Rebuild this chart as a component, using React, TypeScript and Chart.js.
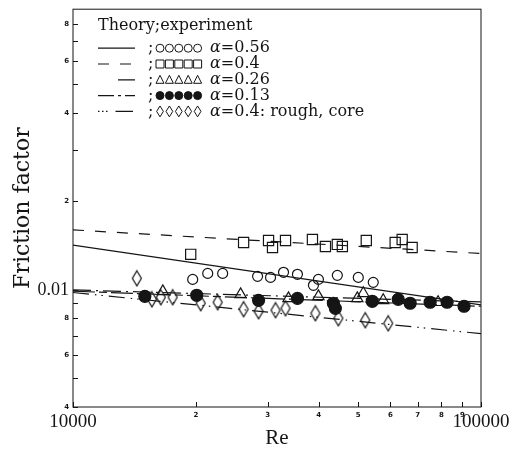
import React, { useEffect, useRef } from 'react';
import { Chart, registerables } from 'chart.js';
Chart.register(...registerables);

// Theory lines (endpoints on log-log axes)
const theoryRe = [10000, 100000];
const theory056 = [0.0142, 0.0089];
const theory04 = [0.016, 0.0133];
const theory026 = [0.01, 0.0091];
const theory013 = [0.0099, 0.0088];
const theoryRough = [0.0098, 0.0071];

// Experiments
const re056 = [19650, 21390, 23270, 28340, 30490, 32810, 35490, 38840, 39950, 44450, 50030, 54440];
const f056 = [0.01086, 0.01138, 0.01138, 0.01112, 0.01103, 0.01148, 0.0113, 0.01037, 0.01086, 0.01121, 0.01103, 0.01061];

const re04 = [19430, 26190, 30150, 30830, 33180, 38620, 41560, 44450, 45730, 52340, 61610, 64090, 67800];
const f04 = [0.01321, 0.0145, 0.01473, 0.01394, 0.01473, 0.01484, 0.01405, 0.01428, 0.01405, 0.01473, 0.0145, 0.01484, 0.01394];

const re026 = [16600, 25750, 33740, 39950, 49750, 51460, 57590, 78500];
const f026 = [0.00989, 0.00966, 0.00936, 0.00951, 0.00936, 0.00974, 0.00922, 0.00908];

const re013 = [15000, 20100, 28500, 35490, 43470, 43960, 54140, 62670, 67040, 75040, 82580, 90880];
const f013 = [0.00951, 0.00959, 0.00922, 0.00936, 0.00901, 0.00866, 0.00915, 0.00929, 0.00901, 0.00908, 0.00908, 0.0088];

const reRough = [14340, 15610, 16410, 17550, 20560, 22620, 26190, 28500, 31360, 33180, 39280, 44710, 52040, 59230];
const fRough = [0.01095, 0.00929, 0.00944, 0.00944, 0.00901, 0.00908, 0.0086, 0.00846, 0.00853, 0.00866, 0.00833, 0.00801, 0.00789, 0.0077];

// Axes
const xTickValues = [10000, 20000, 30000, 40000, 50000, 60000, 70000, 80000, 90000, 100000];
const xTickLabels = ['10000', '2', '3', '4', '5', '6', '7', '8', '9', '100000'];
const yTickValues = [0.004, 0.005, 0.006, 0.007, 0.008, 0.009, 0.01, 0.02, 0.03, 0.04, 0.05, 0.06, 0.07, 0.08];
const yTickLabels = ['4', '', '6', '', '8', '', '0.01', '2', '', '4', '', '6', '', '8'];
const xTitle = 'Re';
const yTitle = 'Friction factor';

// Legend
const legendTitle = 'Theory;experiment';
const legendLabels = ['α=0.56', 'α=0.4', 'α=0.26', 'α=0.13', 'α=0.4: rough, core'];
const legendMarkers = ['circle', 'square', 'triangle', 'filled', 'diamond'];

const INK = '#151515';
const DASH_04 = [11, 11];
const DASH_026 = [18, 5, 2, 5];
const DASH_013 = [22, 4, 8, 4];
const DASH_ROUGH = [16, 6, 1.5, 5, 1.5, 6];
const legendDashes = [[], DASH_04, [0, 20, 18, 0], [16, 4, 3, 4, 8, 0], [1.5, 2.5, 1.5, 2.5, 1.5, 8, 16, 0]];

function drawMark(ctx: CanvasRenderingContext2D, type: string, x: number, y: number, s: number) {
  ctx.beginPath();
  const h = s / 2;
  if (type === 'circle' || type === 'filled') {
    ctx.arc(x, y, h, 0, Math.PI * 2);
    if (type === 'filled') ctx.fill();
    ctx.stroke();
  } else if (type === 'square') {
    ctx.rect(x - h, y - h, s, s);
    ctx.stroke();
  } else if (type === 'triangle') {
    ctx.moveTo(x, y - h - 0.5);
    ctx.lineTo(x + h, y + h - 0.5);
    ctx.lineTo(x - h, y + h - 0.5);
    ctx.closePath();
    ctx.stroke();
  } else if (type === 'diamond') {
    const w = s * 0.42;
    const hh = s * 0.68;
    ctx.moveTo(x, y - hh);
    ctx.lineTo(x + w, y);
    ctx.lineTo(x, y + hh);
    ctx.lineTo(x - w, y);
    ctx.closePath();
    ctx.stroke();
  }
}

function makeDiamond(w: number, h: number): HTMLCanvasElement {
  const c = document.createElement('canvas');
  c.width = w + 3;
  c.height = h + 3;
  const g = c.getContext('2d')!;
  g.strokeStyle = INK;
  g.lineWidth = 1.2;
  g.beginPath();
  g.moveTo(c.width / 2, 1.5);
  g.lineTo(c.width - 1.5, c.height / 2);
  g.lineTo(c.width / 2, c.height - 1.5);
  g.lineTo(1.5, c.height / 2);
  g.closePath();
  g.stroke();
  return c;
}

const framePlugin = {
  id: 'frameLegend',
  afterDraw(chart: any) {
    const { ctx, chartArea: a, scales } = chart;
    ctx.save();
    ctx.strokeStyle = INK;
    ctx.lineWidth = 1;
    ctx.strokeRect(a.left, a.top, a.right - a.left, a.bottom - a.top);
    ctx.beginPath();
    scales.x.ticks.forEach((t: any) => {
      const px = Math.round(scales.x.getPixelForValue(t.value)) + 0.5;
      ctx.moveTo(px, a.bottom);
      ctx.lineTo(px, a.bottom - 5);
    });
    scales.y.ticks.forEach((t: any) => {
      const py = Math.round(scales.y.getPixelForValue(t.value)) + 0.5;
      ctx.moveTo(a.left, py);
      ctx.lineTo(a.left + 5, py);
    });
    ctx.stroke();

    // legend
    const L = a.left + 25;
    ctx.fillStyle = INK;
    ctx.textBaseline = 'middle';
    ctx.textAlign = 'left';
    ctx.font = '16px "DejaVu Serif"';
    ctx.fillText(legendTitle, L, a.top + 17);
    legendLabels.forEach((lab, i) => {
      const y = a.top + 39 + i * 15.8;
      ctx.lineWidth = 1.2;
      ctx.setLineDash(legendDashes[i]);
      ctx.beginPath();
      ctx.moveTo(L, y);
      ctx.lineTo(L + 37, y);
      ctx.stroke();
      ctx.setLineDash([]);
      ctx.font = '16px "DejaVu Serif"';
      ctx.fillText(';', L + 50, y);
      ctx.lineWidth = 1;
      for (let k = 0; k < 5; k++) drawMark(ctx, legendMarkers[i], L + 62 + k * 9.4, y, 8);
      const tx = L + 112;
      ctx.font = 'italic 16px "DejaVu Serif"';
      ctx.fillText(lab[0], tx, y);
      const w = ctx.measureText(lab[0]).width;
      ctx.font = '16px "DejaVu Serif"';
      ctx.fillText(lab.slice(1), tx + w, y);
    });
    ctx.restore();
  },
};

function pts(xs: number[], ys: number[]) {
  return xs.map((x, i) => ({ x, y: ys[i] }));
}

export default function App() {
  const ref = useRef<HTMLCanvasElement>(null);
  useEffect(() => {
    document.body.style.margin = '0';
    const diamond = makeDiamond(9, 15);
    const lineDs = (data: number[], dash: number[]) => ({
      data: pts(theoryRe, data),
      showLine: true,
      borderColor: INK,
      borderWidth: 1.2,
      borderDash: dash,
      pointRadius: 0,
      fill: false,
    });
    const markDs = (xs: number[], ys: number[], style: any, r: number, filled = false) => ({
      data: pts(xs, ys),
      showLine: false,
      pointStyle: style,
      pointRadius: r,
      borderColor: INK,
      borderWidth: 1.2,
      backgroundColor: filled ? INK : 'rgba(0,0,0,0)',
    });
    const chart = new Chart(ref.current!, {
      type: 'scatter',
      data: {
        datasets: [
          lineDs(theory056, []),
          lineDs(theory04, DASH_04),
          lineDs(theory026, DASH_026),
          lineDs(theory013, DASH_013),
          lineDs(theoryRough, DASH_ROUGH),
          markDs(re056, f056, 'circle', 5),
          markDs(re04, f04, 'rect', 7.2),
          markDs(re026, f026, 'triangle', 6.5),
          markDs(re013, f013, 'circle', 6, true),
          markDs(reRough, fRough, diamond, 8),
        ] as any,
      },
      options: {
        animation: false,
        responsive: false,
        layout: { padding: { left: 0, top: 8, right: 35, bottom: 0 } },
        plugins: { legend: { display: false }, tooltip: { enabled: false } },
        scales: {
          x: {
            type: 'logarithmic',
            min: 10000,
            max: 100000,
            afterBuildTicks: (s: any) => {
              s.ticks = xTickValues.map((v) => ({ value: v }));
            },
            afterFit: (s: any) => {
              s.height = 42;
            },
            grid: { display: false, drawTicks: false },
            border: { display: false },
            ticks: {
              autoSkip: false,
              maxRotation: 0,
              padding: 4,
              color: INK,
              callback: (v: any) => {
                const i = xTickValues.indexOf(Number(v));
                return i >= 0 ? xTickLabels[i] : '';
              },
              font: (c: any) => {
                const v = c.tick ? c.tick.value : 0;
                return v === 10000 || v === 100000
                  ? { family: '"Liberation Serif"', size: 19 }
                  : { family: '"DejaVu Sans"', size: 7, weight: 'bold' };
              },
            },
            title: {
              display: true,
              text: xTitle,
              color: INK,
              font: { family: '"Liberation Serif"', size: 21, lineHeight: 1 },
              padding: { top: 0, bottom: 0 },
            },
          },
          y: {
            type: 'logarithmic',
            min: 0.004,
            max: 0.09,
            afterBuildTicks: (s: any) => {
              s.ticks = yTickValues.map((v) => ({ value: v }));
            },
            afterFit: (s: any) => {
              s.width = 73;
            },
            grid: { display: false, drawTicks: false },
            border: { display: false },
            ticks: {
              autoSkip: false,
              padding: 4,
              color: INK,
              callback: (v: any) => {
                const i = yTickValues.findIndex((t) => Math.abs(t - Number(v)) < 1e-9);
                return i >= 0 ? yTickLabels[i] : '';
              },
              font: (c: any) => {
                const v = c.tick ? c.tick.value : 0;
                return Math.abs(v - 0.01) < 1e-9
                  ? { family: '"Liberation Serif"', size: 18 }
                  : { family: '"DejaVu Sans"', size: 7, weight: 'bold' };
              },
            },
            title: {
              display: true,
              text: yTitle,
              color: INK,
              font: { family: '"DejaVu Serif"', size: 22, lineHeight: 1.2 },
              padding: { top: 10, bottom: 0 },
            },
          },
        },
      } as any,
      plugins: [framePlugin],
    });
    return () => chart.destroy();
  }, []);
  return (
    <div style={{ width: 516, height: 449, background: '#fff' }}>
      <canvas ref={ref} width={516} height={449} />
    </div>
  );
}
